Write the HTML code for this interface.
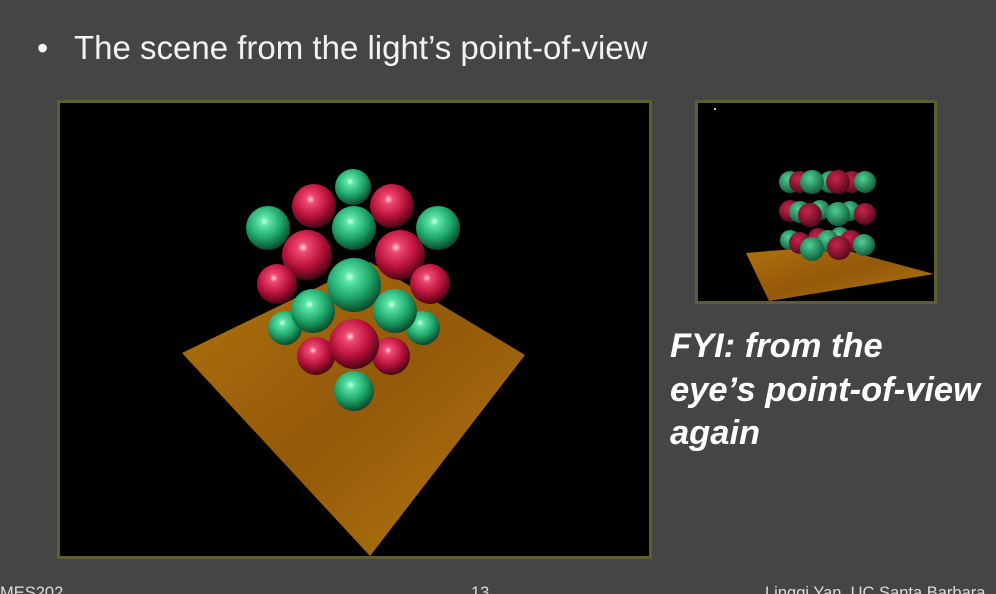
<!DOCTYPE html>
<html style="margin:0;height:594px;overflow:hidden;"><head><meta charset="utf-8"><style>
html,body{height:594px;overflow:hidden;}
body{margin:0;width:996px;background:#454545;position:relative;font-family:"Liberation Sans",sans-serif;}
.t{position:absolute;color:#f2f2f2;white-space:nowrap;}
</style></head><body>
<div class="t" style="left:37px;top:30px;font-size:32px;">•</div>
<div class="t" style="left:74px;top:29px;font-size:33px;">The scene from the light’s point-of-view</div>
<svg width="996" height="594" style="position:absolute;left:0;top:0">
<defs>
<radialGradient id="g" cx="0.42" cy="0.35" r="0.65"><stop offset="0" stop-color="#d8ffea"/><stop offset="0.15" stop-color="#5de6a8"/><stop offset="0.6" stop-color="#1ea56a"/><stop offset="1" stop-color="#0a4a2c"/></radialGradient>
<radialGradient id="r" cx="0.42" cy="0.35" r="0.65"><stop offset="0" stop-color="#ffd8e2"/><stop offset="0.15" stop-color="#f04a72"/><stop offset="0.6" stop-color="#b8123a"/><stop offset="1" stop-color="#4a0616"/></radialGradient>
<radialGradient id="gs" cx="0.4" cy="0.35" r="0.7"><stop offset="0" stop-color="#4fd095"/><stop offset="1" stop-color="#0d5534"/></radialGradient>
<radialGradient id="rs" cx="0.4" cy="0.35" r="0.7"><stop offset="0" stop-color="#c8244c"/><stop offset="1" stop-color="#50081a"/></radialGradient>
<linearGradient id="w" x1="0" y1="0" x2="1" y2="1"><stop offset="0" stop-color="#b0720e"/><stop offset="0.5" stop-color="#94590a"/><stop offset="1" stop-color="#b47810"/></linearGradient>
</defs>
<rect x="58.5" y="101.5" width="592" height="456" fill="#000" stroke="#5e5e30" stroke-width="3"/>
<polygon points="182,353 370,262 525,355 370,556" fill="url(#w)"/>
<g>
<circle cx="353" cy="187" r="18" fill="url(#g)"/>
<circle cx="314" cy="206" r="22" fill="url(#r)"/><circle cx="392" cy="206" r="22" fill="url(#r)"/>
<circle cx="268" cy="228" r="22" fill="url(#g)"/><circle cx="354" cy="228" r="22" fill="url(#g)"/><circle cx="438" cy="228" r="22" fill="url(#g)"/>
<circle cx="307" cy="255" r="25" fill="url(#r)"/><circle cx="400" cy="255" r="25" fill="url(#r)"/>
<circle cx="277" cy="284" r="20" fill="url(#r)"/><circle cx="430" cy="284" r="20" fill="url(#r)"/>
<circle cx="285" cy="328" r="17" fill="url(#g)"/><circle cx="423" cy="328" r="17" fill="url(#g)"/>
<circle cx="354" cy="285" r="27" fill="url(#g)"/>
<circle cx="313" cy="311" r="22" fill="url(#g)"/><circle cx="395" cy="311" r="22" fill="url(#g)"/>
<circle cx="316" cy="356" r="19" fill="url(#r)"/><circle cx="391" cy="356" r="19" fill="url(#r)"/>
<circle cx="354" cy="344" r="25" fill="url(#r)"/>
<circle cx="354" cy="391" r="20" fill="url(#g)"/>
</g>
<rect x="696.5" y="101.5" width="239" height="201" fill="#000" stroke="#5e5e30" stroke-width="3"/>
<circle cx="715" cy="109" r="1" fill="#ffe"/>
<polygon points="746,253 830,246 934,274 769,301" fill="url(#w)"/>
<g>
<circle cx="790" cy="182" r="11" fill="url(#gs)"/><circle cx="800" cy="182" r="11" fill="url(#rs)"/><circle cx="830" cy="182" r="11" fill="url(#gs)"/><circle cx="852" cy="182" r="11" fill="url(#rs)"/>
<circle cx="812" cy="182" r="12" fill="url(#gs)"/><circle cx="838" cy="182" r="12" fill="url(#rs)"/><circle cx="865" cy="182" r="11" fill="url(#gs)"/>
<circle cx="790" cy="211" r="11" fill="url(#rs)"/><circle cx="820" cy="210" r="10" fill="url(#gs)"/><circle cx="850" cy="211" r="10" fill="url(#gs)"/><circle cx="800" cy="212" r="11" fill="url(#gs)"/>
<circle cx="810" cy="215" r="12" fill="url(#rs)"/><circle cx="838" cy="214" r="12" fill="url(#gs)"/><circle cx="865" cy="214" r="11" fill="url(#rs)"/>
<circle cx="790" cy="240" r="10" fill="url(#gs)"/><circle cx="818" cy="238" r="10" fill="url(#rs)"/><circle cx="840" cy="237" r="10" fill="url(#gs)"/><circle cx="800" cy="243" r="11" fill="url(#rs)"/><circle cx="828" cy="241" r="11" fill="url(#gs)"/><circle cx="851" cy="241" r="11" fill="url(#rs)"/>
<circle cx="812" cy="249" r="12" fill="url(#gs)"/><circle cx="839" cy="248" r="12" fill="url(#rs)"/><circle cx="864" cy="245" r="11" fill="url(#gs)"/>
</g>
</svg>
<div class="t" style="left:670px;top:325px;font-size:34.5px;font-weight:bold;font-style:italic;line-height:43.5px;color:#fff;">FYI: from the<br>eye’s point-of-view<br>again</div>
<div class="t" style="left:0;top:584px;font-size:16.5px;line-height:19px;color:#ddd;">MES202</div>
<div class="t" style="left:471px;top:584px;font-size:16.5px;line-height:19px;color:#ddd;">13</div>
<div class="t" style="left:765px;top:584px;font-size:16.5px;line-height:19px;color:#ddd;">Lingqi Yan, UC Santa Barbara</div>
</body></html>
